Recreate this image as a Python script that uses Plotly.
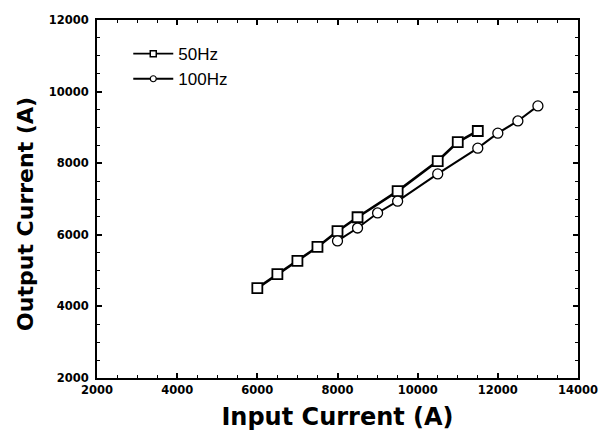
import plotly.graph_objects as go

x50 = [6000, 6500, 7000, 7500, 8000, 8500, 9500, 10500, 11000, 11500]
y50 = [4510, 4900, 5270, 5660, 6100, 6490, 7220, 8060, 8590, 8900]
x100 = [8000, 8500, 9000, 9500, 10500, 11500, 12000, 12500, 13000]
y100 = [5830, 6190, 6610, 6940, 7700, 8420, 8840, 9180, 9600]
names = ["50Hz", "100Hz"]

fig = go.Figure()
fig.add_trace(go.Scatter(x=x50, y=y50, mode="lines+markers", name=names[0], showlegend=False,
                         line=dict(color="black", width=2.6),
                         marker=dict(symbol="square", size=10, color="white",
                                     line=dict(color="black", width=1.8))))
fig.add_trace(go.Scatter(x=x100, y=y100, mode="lines+markers", name=names[1], showlegend=False,
                         line=dict(color="black", width=2),
                         marker=dict(symbol="circle", size=10, color="white",
                                     line=dict(color="black", width=1.3))))
# legend entries (smaller symbols as in the reference legend)
fig.add_trace(go.Scatter(x=[None], y=[None], mode="lines+markers", name=names[0],
                         line=dict(color="black", width=1.8),
                         marker=dict(symbol="square", size=6, color="white",
                                     line=dict(color="black", width=1.5))))
fig.add_trace(go.Scatter(x=[None], y=[None], mode="lines+markers", name=names[1],
                         line=dict(color="black", width=1.8),
                         marker=dict(symbol="circle", size=6, color="white",
                                     line=dict(color="black", width=1.2))))

axis_common = dict(showline=True, linecolor="black", linewidth=2, mirror="ticks",
                   ticks="inside", ticklen=5, tickwidth=1.5, tickcolor="black",
                   showgrid=False, zeroline=False, automargin=False, tickformat="d",
                   ticklabeloverflow="allow",
                   tickfont=dict(family="DejaVu Sans", size=11.5, color="black", weight="bold"),
                   minor=dict(ticks="inside", ticklen=3, tickwidth=1.2, tickcolor="black"))

fig.update_xaxes(range=[2000, 14000], dtick=2000, tick0=2000,
                 title=dict(text="Input Current (A)", standoff=12,
                            font=dict(family="DejaVu Sans", size=24, color="black", weight="bold")),
                 **axis_common)
fig.update_yaxes(range=[2000, 12000], dtick=2000, tick0=2000, ticklabelstandoff=4,
                 **axis_common)

fig.add_annotation(text="Output Current (A)", xref="paper", yref="paper",
                   x=-0.15, y=0.458, xanchor="center", yanchor="middle",
                   textangle=-90, showarrow=False,
                   font=dict(family="DejaVu Sans", size=22, color="black", weight="bold"))

fig.update_layout(width=600, height=436, margin=dict(l=97, r=22, t=20, b=58),
                  paper_bgcolor="white", plot_bgcolor="white",
                  legend=dict(x=0.065, y=0.955, xanchor="left", yanchor="top",
                              bgcolor="rgba(0,0,0,0)", tracegroupgap=0, itemwidth=40,
                              font=dict(family="Liberation Sans", size=17, color="black")),
                  showlegend=True)
fig.write_html("out.html", config={"displayModeBar": False},
               post_script="document.body.style.margin='0';document.body.style.overflow='hidden';")
